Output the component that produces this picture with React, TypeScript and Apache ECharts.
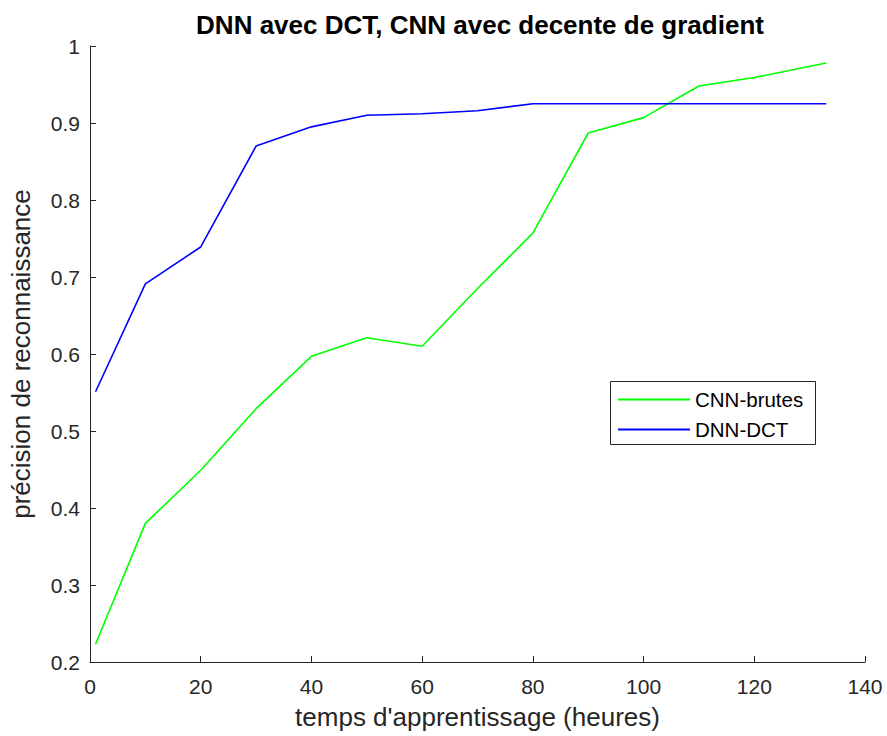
import React, { useEffect, useRef } from "react";
import * as echarts from "echarts";

const hours = [1, 10, 20, 30, 40, 50, 60, 70, 80, 90, 100, 110, 120, 133];
const cnnBrutes = [0.223, 0.38, 0.449, 0.529, 0.597, 0.621, 0.61, 0.685, 0.757, 0.887, 0.907, 0.948, 0.959, 0.978];
const dnnDct = [0.551, 0.691, 0.739, 0.87, 0.895, 0.91, 0.912, 0.916, 0.925, 0.925, 0.925, 0.925, 0.925, 0.925];
const seriesNames = ["CNN-brutes", "DNN-DCT"];
const titleText = "DNN avec DCT, CNN avec decente de gradient";
const xName = "temps d'apprentissage (heures)";
const yName = "précision de reconnaissance";

const FONT = "'Liberation Sans', Arial, Helvetica, sans-serif";
const AX = "#262626";

export default function App() {
  const ref = useRef<HTMLDivElement>(null);
  useEffect(() => {
    if (!ref.current) return;
    const chart = echarts.init(ref.current, undefined, { renderer: "svg" });
    const pairs = (ys: number[]) => hours.map((h, i) => [h, ys[i]]);
    chart.setOption({
      animation: false,
      backgroundColor: "#ffffff",
      textStyle: { fontFamily: FONT },
      title: {
        text: titleText,
        left: 475,
        textAlign: "center",
        top: 7,
        textStyle: { fontFamily: FONT, fontSize: 26, fontWeight: "bold", color: "#000000" },
      },
      grid: { left: 88, right: 22, top: 46, bottom: 74, containLabel: false },
      legend: {
        orient: "vertical",
        left: 610,
        top: 381,
        padding: [8, 10, 8, 8],
        icon: "rect",
        itemWidth: 72,
        itemHeight: 2,
        itemGap: 9,
        borderWidth: 0,
        data: seriesNames,
        textStyle: { fontFamily: FONT, fontSize: 20.5, color: "#000000", lineHeight: 20 },
      },
      graphic: [
        {
          type: "rect",
          left: 610,
          top: 381,
          shape: { width: 205, height: 63 },
          style: { fill: "#ffffff", stroke: AX, lineWidth: 1 },
          z: 1,
        },
      ],
      xAxis: {
        type: "value",
        min: 0,
        max: 140,
        interval: 20,
        name: xName,
        nameLocation: "middle",
        nameGap: 42,
        nameTextStyle: { fontFamily: FONT, fontSize: 26, color: AX },
        axisLine: { show: true, onZero: false, lineStyle: { color: AX, width: 1 } },
        axisTick: { show: true, inside: true, length: 6, lineStyle: { color: AX } },
        axisLabel: { margin: 14, fontFamily: FONT, fontSize: 21, color: AX },
        splitLine: { show: false },
      },
      yAxis: {
        type: "value",
        min: 0.2,
        max: 1,
        interval: 0.1,
        name: yName,
        nameLocation: "middle",
        nameGap: 56,
        nameRotate: 90,
        nameTextStyle: { fontFamily: FONT, fontSize: 26, color: AX },
        axisLine: { show: true, onZero: false, lineStyle: { color: AX, width: 1 } },
        axisTick: { show: true, inside: true, length: 6, lineStyle: { color: AX } },
        axisLabel: {
          margin: 10,
          fontFamily: FONT,
          fontSize: 21,
          color: AX,
          formatter: (v: number) => String(Math.round(v * 10) / 10),
        },
        splitLine: { show: false },
      },
      series: [
        {
          name: seriesNames[0],
          type: "line",
          data: pairs(cnnBrutes),
          symbol: "none",
          lineStyle: { color: "#00ff00", width: 1.6 },
          itemStyle: { color: "#00ff00" },
          z: 3,
        },
        {
          name: seriesNames[1],
          type: "line",
          data: pairs(dnnDct),
          symbol: "none",
          lineStyle: { color: "#0000ff", width: 1.6 },
          itemStyle: { color: "#0000ff" },
          z: 3,
        },
      ],
    });
    return () => chart.dispose();
  }, []);
  return (
    <div
      ref={ref}
      style={{ position: "fixed", left: 0, top: 0, width: 887, height: 736, background: "#fff" }}
    />
  );
}
